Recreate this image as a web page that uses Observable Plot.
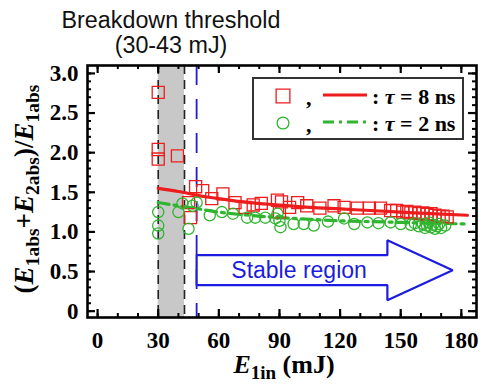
<!DOCTYPE html>
<html><head><meta charset="utf-8">
<script src="https://cdn.jsdelivr.net/npm/d3@7"></script>
<script src="https://cdn.jsdelivr.net/npm/@observablehq/plot@0.6"></script>
<style>body{margin:0;background:#fff} #chart{width:489px;height:385px}</style>
</head><body><div id="chart"></div>
<script>
// ---- data ----
const redX = [30,30,30,39.5,45,46,48.5,52,56.5,62,68,73,77,81,89,90,91,95,99,103.5,110,117,122,128.5,134.5,140,145,148,151,153,155,157,159,161,163,165,167,169,171,173];
const redY = [2.76,2.04,1.92,1.96,1.37,1.18,1.57,1.52,1.42,1.48,1.37,1.31,1.34,1.36,1.40,1.25,1.38,1.31,1.37,1.33,1.30,1.33,1.31,1.30,1.30,1.30,1.27,1.27,1.25,1.26,1.24,1.25,1.23,1.24,1.22,1.23,1.21,1.20,1.20,1.19];
const greenX = [30,30,30,40,42,45,47,49,55.5,61.5,67,74,78,83,88,89,90,90.5,97,102,107,114,122,127,133.5,139,145,150,155,157,159,161,162,163,164,165,166,167,168,169,170,172];
const greenY = [1.25,1.08,0.98,1.25,1.36,1.04,1.33,1.37,1.21,1.25,1.23,1.18,1.18,1.18,1.17,1.23,1.14,1.06,1.10,1.10,1.08,1.13,1.17,1.10,1.12,1.11,1.12,1.10,1.09,1.11,1.07,1.10,1.05,1.08,1.12,1.06,1.09,1.04,1.07,1.10,1.05,1.08];
const fitX = [30,40,50,60,75,90,105,120,135,150,165,183];
const fit8 = [1.55,1.51,1.46,1.42,1.37,1.34,1.31,1.29,1.27,1.25,1.23,1.21];
const fit2 = [1.37,1.33,1.29,1.25,1.21,1.18,1.16,1.14,1.13,1.12,1.11,1.10];
const thresholdBand = [30, 43];
const stableStart = 49;
const arrowX = [49,143.4,143.4,175.7,143.4,143.4,49,49];
const arrowY = [0.706,0.706,0.895,0.517,0.139,0.328,0.328,0.706];
const xMajor = [0,30,60,90,120,150,180];
const xMinor = d3.range(0,181,10);
const yMajor = [0,0.5,1.0,1.5,2.0,2.5,3.0];
const yMinor = d3.range(0,31).map(i=>i/10);
const titleLines = ["Breakdown threshold","(30-43 mJ)"];
const arrowLabel = "Stable region";

// ---- layout ----
const W=489,H=385, mL=87,mR=13,mT=65,mB=68;
const fW=W-mL-mR, fH=H-mT-mB;
const serif="'Liberation Serif','Times New Roman',serif";
const sans="'Liberation Sans',Arial,sans-serif";
const red="#ee1c1c", green="#2fb52f", blue="#1c1ce0";

const redData = redX.map((x,i)=>({x,y:redY[i]}));
const greenData = greenX.map((x,i)=>({x,y:greenY[i]}));
const fitData8 = fitX.map((x,i)=>({x,y:fit8[i]}));
const fitData2 = fitX.map((x,i)=>({x,y:fit2[i]}));
const arrowData = arrowX.map((x,i)=>({x,y:arrowY[i]}));
const labelPos = [{x:(arrowX[0]+arrowX[1])/2+3.5, y:(arrowY[0]+arrowY[5])/2, t:arrowLabel}];

const plot = Plot.plot({
  width:W, height:H, marginLeft:mL, marginRight:mR, marginTop:mT, marginBottom:mB,
  x:{domain:[-5,187.5]}, y:{domain:[-0.08,3.1]},
  style:{background:"white", overflow:"visible"},
  marks:[
    Plot.rect([thresholdBand], {x1:d=>d[0], x2:d=>d[1], fill:"#c8c8c8"}),
    Plot.ruleX(thresholdBand, {stroke:"#222", strokeWidth:1.6, strokeDasharray:"9,6"}),
    Plot.ruleX([stableStart], {stroke:blue, strokeWidth:1.8, strokeDasharray:"20,14"}),
    Plot.line(arrowData, {x:"x", y:"y", fill:"white", stroke:blue, strokeWidth:2.2, strokeLinejoin:"miter"}),
    Plot.text(labelPos, {x:"x", y:"y", text:"t", fill:blue, fontSize:23, fontFamily:sans}),
    Plot.line(fitData8, {x:"x", y:"y", stroke:red, strokeWidth:3.2, curve:"monotone-x"}),
    Plot.line(fitData2, {x:"x", y:"y", stroke:green, strokeWidth:3.2, strokeDasharray:"11,5,3,5", curve:"monotone-x"}),
    Plot.dot(redData, {x:"x", y:"y", symbol:"square", r:6.8, stroke:red, strokeWidth:1.3, fill:"none"}),
    Plot.dot(greenData, {x:"x", y:"y", symbol:"circle", r:5.6, stroke:green, strokeWidth:1.3, fill:"none"}),
    // inward ticks, all four sides
    Plot.tickX(xMinor, {insetTop:fH-4, stroke:"black", strokeWidth:2}),
    Plot.tickX(xMinor, {insetBottom:fH-4, stroke:"black", strokeWidth:2}),
    Plot.tickX(xMajor, {insetTop:fH-8, stroke:"black", strokeWidth:2.2}),
    Plot.tickX(xMajor, {insetBottom:fH-8, stroke:"black", strokeWidth:2.2}),
    Plot.tickY(yMinor, {insetRight:fW-4, stroke:"black", strokeWidth:2}),
    Plot.tickY(yMinor, {insetLeft:fW-4, stroke:"black", strokeWidth:2}),
    Plot.tickY(yMajor, {insetRight:fW-8, stroke:"black", strokeWidth:2.2}),
    Plot.tickY(yMajor, {insetLeft:fW-8, stroke:"black", strokeWidth:2.2}),
    Plot.frame({stroke:"black", strokeWidth:2.6}),
    Plot.axisX({ticks:xMajor, tickSize:0, tickPadding:14, label:null, fontSize:23, fontWeight:"bold", fontFamily:serif, fill:"black"}),
    Plot.axisY({ticks:yMajor, tickSize:0, tickPadding:9, label:null, tickFormat:d=>d===0?"0":d.toFixed(1), fontSize:23, fontWeight:"bold", fontFamily:serif, fill:"black"})
  ]
});
document.getElementById("chart").appendChild(plot);

// ---- annotations / legend ----
const svg = d3.select(plot);
const g = svg.append("g").attr("text-anchor","start");

// title
titleLines.forEach((t,i)=>{
  g.append("text").attr("x",171).attr("y",28+i*25).attr("text-anchor","middle")
   .attr("font-family",sans).attr("font-size",23.3).attr("fill","#111").text(t);
});

function rich(sel, parts, size, sub){
  parts.forEach(p=>{
    const [txt, st] = p;
    const ts = sel.append("tspan").text(txt);
    if (st.includes("i")) ts.attr("font-style","italic");
    if (st.includes("s")) { ts.attr("font-size",sub).attr("dy", size*0.22); }
    if (st.includes("r")) { ts.attr("dy", -size*0.22); }
  });
}
// y label
const yl = g.append("text").attr("transform","translate(33,189) rotate(-90)")
  .attr("text-anchor","middle").attr("font-family",serif).attr("font-weight","bold").attr("font-size",27);
rich(yl, [["(",""],["E","i"],["1abs","s"],["+","r"],["E","i"],["2abs","s"],[")/","r"],["E","i"],["1abs","s"]], 27, 19.5);
// x label
const xl = g.append("text").attr("x",284).attr("y",373).attr("text-anchor","middle")
  .attr("font-family",serif).attr("font-weight","bold").attr("font-size",26);
rich(xl, [["E","i"],["1in","s"],[" (mJ)","r"]], 26, 19);

// legend
const lg = g.append("g").attr("text-anchor","start");
lg.append("rect").attr("x",253).attr("y",78).attr("width",210).attr("height",61)
  .attr("fill","white").attr("stroke","#333").attr("stroke-width",2);
const rows = [
  {c:red, sym:d3.symbolSquare, dash:null, tau:"8"},
  {c:green, sym:d3.symbolCircle, dash:"11,5,3,5", tau:"2"}
];
rows.forEach((r,i)=>{
  const cy = 96 + i*27;
  lg.append("path").attr("transform",`translate(283,${cy})`)
    .attr("d", d3.symbol(r.sym, r.sym===d3.symbolSquare ? 190 : 110)())
    .attr("fill","none").attr("stroke",r.c).attr("stroke-width",1.3);
  lg.append("text").attr("x",306).attr("y",cy+9).attr("text-anchor","start").attr("font-family",serif).attr("font-weight","bold")
    .attr("font-size",22).text(",");
  lg.append("line").attr("x1",323).attr("x2",367).attr("y1",cy-1).attr("y2",cy-1)
    .attr("stroke",r.c).attr("stroke-width",3.2).attr("stroke-dasharray",r.dash);
  const t = lg.append("text").attr("x",372).attr("y",cy+8).attr("text-anchor","start").attr("font-family",serif).attr("font-weight","bold").attr("font-size",22);
  t.append("tspan").text(": ");
  t.append("tspan").attr("font-style","italic").text("τ");
  t.append("tspan").text(" = " + r.tau + " ns");
});
</script></body></html>
